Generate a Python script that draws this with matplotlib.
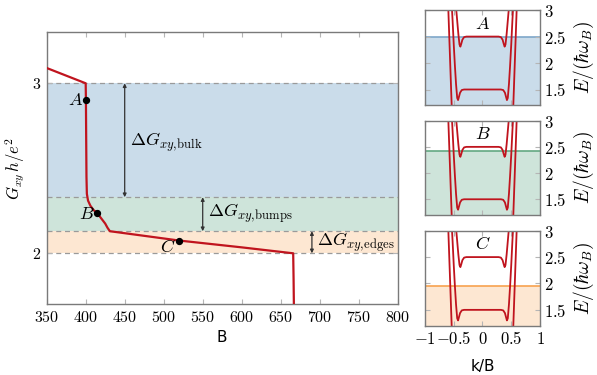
import numpy as np
import matplotlib
matplotlib.use("Agg")
import matplotlib.pyplot as plt

plt.rcParams['mathtext.fontset'] = 'cm'
plt.rcParams['font.family'] = ['DejaVu Sans']

# ---------------- data ----------------
# main curve G_xy(B)
B_vals = [350, 400, 400.3, 400.6, 401, 401.5, 403, 406, 410, 415, 420, 425, 428, 431, 520, 600, 666, 666.5, 667]
G_vals = [3.09, 3.0, 2.9, 2.7, 2.45, 2.35, 2.31, 2.28, 2.255, 2.235, 2.205, 2.175, 2.15, 2.13, 2.075, 2.035, 2.0, 1.85, 1.65]

# marked points
pt_names = ['A', 'B', 'C']
pt_B = [400, 415, 520]
pt_G = [2.9, 2.235, 2.075]

# band boundaries (G_xy h/e^2)
lvl_top = 3.0
lvl_bulk = 2.33
lvl_bumps = 2.13
lvl_bottom = 2.0

x_ticks = [350, 400, 450, 500, 550, 600, 650, 700, 750, 800]
x_ticklabels = ['$350$', '$400$', '$450$', '$500$', '$550$', '$600$', '$650$', '$700$', '$750$', '$800$']
y_ticks = [2, 3]
y_ticklabels = ['$2$', '$3$']

# band structure (k >= 0 half, mirrored)
k_n0 = [0.50, 0.536, 0.565, 0.594, 0.62]
E_n0 = [0.1, 1.2, 2.1, 3.0, 3.8]
k_n1 = [0.0, 0.32, 0.36, 0.39, 0.41, 0.425, 0.44, 0.46, 0.48, 0.50, 0.52, 0.54]
E_n1 = [1.5, 1.5, 1.49, 1.44, 1.36, 1.30, 1.34, 1.60, 1.95, 2.35, 2.80, 3.20]
k_n2 = [0.0, 0.28, 0.32, 0.35, 0.37, 0.385, 0.40, 0.42, 0.44, 0.46, 0.48]
E_n2 = [2.5, 2.5, 2.49, 2.44, 2.36, 2.31, 2.35, 2.55, 2.80, 3.05, 3.30]

fermi_levels = [2.49, 2.42, 1.95]
sub_ticks_k = [-1, -0.5, 0, 0.5, 1]
sub_ticklabels_k = ['$-1$', '$-0.5$', '$0$', '$0.5$', '$1$']
sub_ticks_E = [1.5, 2, 2.5, 3]
sub_ticklabels_E = ['$1.5$', '$2$', '$2.5$', '$3$']

# ---------------- style ----------------
red = '#c0141e'
fill_cols = ['#cadcea', '#cee4da', '#fde7d2']
line_cols = ['#7ea7c9', '#63a882', '#f7a24f']
spine_col = '#7a7a7a'
tick_col = '#b5b5b5'


def style_axes(ax, size=11):
    for s in ax.spines.values():
        s.set_color(spine_col)
        s.set_linewidth(1.0)
    ax.tick_params(direction='in', color=tick_col, length=3.5, width=0.8,
                   top=True, right=True, labelsize=size, pad=4)


fig = plt.figure(figsize=(5.97, 3.75), dpi=100)

# ---------------- main axes ----------------
ax = fig.add_axes([0.0782, 0.1885, 0.588, 0.7254])
ax.set_xlim(350, 800)
ax.set_ylim(1.7, 3.3)
ax.axhspan(lvl_bulk, lvl_top, color=fill_cols[0], lw=0, zorder=0)
ax.axhspan(lvl_bumps, lvl_bulk, color=fill_cols[1], lw=0, zorder=0)
ax.axhspan(lvl_bottom, lvl_bumps, color=fill_cols[2], lw=0, zorder=0)
for lv in [lvl_top, lvl_bulk, lvl_bumps, lvl_bottom]:
    ax.axhline(lv, color='#9a9a9a', lw=0.9, ls=(0, (4, 3)), zorder=1)

ax.plot(B_vals, G_vals, color=red, lw=1.6, zorder=3)
ax.scatter(pt_B, pt_G, s=18, color='black', zorder=4)
ax.text(pt_B[0] - 3, pt_G[0], '$A$', fontsize=13, ha='right', va='center')
ax.text(pt_B[1] - 3, pt_G[1] - 0.005, '$B$', fontsize=13, ha='right', va='center')
ax.text(pt_B[2] - 4, pt_G[2] - 0.04, '$C$', fontsize=13, ha='right', va='center')

arrow_kw = dict(arrowstyle='<|-|>', color='#333333', lw=0.9, mutation_scale=5, shrinkA=0, shrinkB=0)
ax.annotate('', xy=(450, lvl_top), xytext=(450, lvl_bulk), arrowprops=arrow_kw)
ax.annotate('', xy=(550, lvl_bulk), xytext=(550, lvl_bumps), arrowprops=arrow_kw)
ax.annotate('', xy=(690, lvl_bumps), xytext=(690, lvl_bottom), arrowprops=arrow_kw)
ax.text(457, 2.655, r'$\Delta G_{xy,\!\mathrm{bulk}}$', fontsize=13, ha='left', va='center')
ax.text(557, 2.235, r'$\Delta G_{xy,\!\mathrm{bumps}}$', fontsize=13, ha='left', va='center')
ax.text(697, 2.065, r'$\Delta G_{xy,\!\mathrm{edges}}$', fontsize=13, ha='left', va='center')

ax.set_xticks(x_ticks)
ax.set_xticklabels(x_ticklabels)
ax.set_yticks(y_ticks)
ax.set_yticklabels(y_ticklabels)
style_axes(ax, 11.5)
ax.set_xlabel('B', fontsize=11, labelpad=4)
ax.set_ylabel(r'$G_{xy}\,h/e^2$', fontsize=12)
ax.yaxis.set_label_coords(-0.057, 0.5)

# ---------------- band structure subplots ----------------
sub_rects = [[0.7119, 0.719, 0.1926, 0.254],
             [0.7119, 0.4267, 0.1926, 0.2515],
             [0.7119, 0.1315, 0.1926, 0.2533]]


def mirror(k, E):
    kk = [-v for v in k[::-1]] + list(k)
    EE = list(E[::-1]) + list(E)
    return kk, EE


for i, rect in enumerate(sub_rects):
    sa = fig.add_axes(rect)
    sa.set_xlim(-1, 1)
    sa.set_ylim(1.2, 3.0)
    sa.axhspan(1.2, fermi_levels[i], color=fill_cols[i], lw=0, zorder=0)
    sa.axhline(fermi_levels[i], color=line_cols[i], lw=1.2, zorder=1)
    sa.plot(k_n0, E_n0, color=red, lw=1.3, zorder=2)
    sa.plot([-v for v in k_n0], E_n0, color=red, lw=1.3, zorder=2)
    kk, EE = mirror(k_n1, E_n1)
    sa.plot(kk, EE, color=red, lw=1.3, zorder=2)
    kk, EE = mirror(k_n2, E_n2)
    sa.plot(kk, EE, color=red, lw=1.3, zorder=2)
    sa.text(0, 2.74, '$%s$' % pt_names[i], fontsize=13, ha='center', va='center')
    sa.set_yticks(sub_ticks_E)
    sa.set_yticklabels(sub_ticklabels_E)
    sa.set_xticks(sub_ticks_k)
    style_axes(sa, 12)
    sa.tick_params(labelleft=False, labelright=True, pad=3)
    sa.set_ylabel(r'$E/(\hbar\omega_B)$', fontsize=14, labelpad=4)
    sa.yaxis.set_label_position('right')
    if i == 2:
        sa.set_xticklabels(sub_ticklabels_k)
        sa.set_xlabel('k/B', fontsize=11, labelpad=8)
    else:
        sa.tick_params(labelbottom=False)

fig.savefig('out.png', dpi=100)
